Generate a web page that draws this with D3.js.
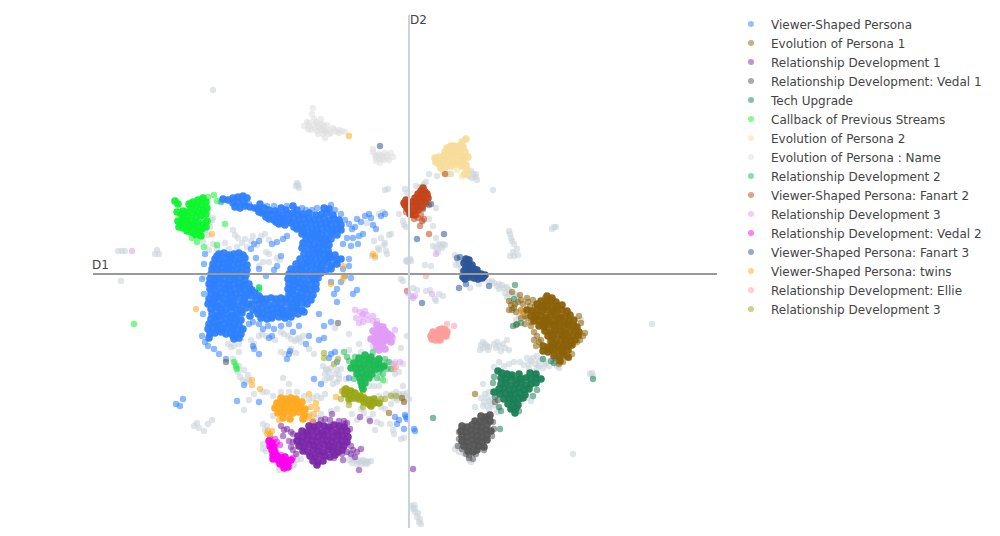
<!DOCTYPE html>
<html>
<head>
<meta charset="utf-8">
<script src="https://cdn.jsdelivr.net/npm/d3@7"></script>
<style>
  html, body { margin: 0; padding: 0; background: #fff; }
  svg { display: block; }
  text { font-family: "DejaVu Sans", Verdana, sans-serif; font-size: 12px; fill: #444; }
</style>
</head>
<body>
<svg id="chart" width="1000" height="536"></svg>
<script>
// values, D1/D2 in picture units from the crossing of the axes
const viewerDense = [
  [-186,75],[-181,74],[-176,76],[-171,77],[-166,78],[-162,76],[-165,72],[-171,72],[-176,71],
  [-174,67],[-169,66],[-164,68],[-159,67],[-154,66],[-149,70],[-151,65],[-145,66],[-140,64],[-134,63],[-128,66],[-123,64],[-116,68],[-112,64],[-85,66],[-80,65],
  [-147,61],[-142,60],[-137,59],[-131,60],[-126,59],[-121,60],[-116,61],[-111,59],[-106,60],[-100,61],[-93,59],[-87,60],[-82,61],[-76,59],
  [-140,55],[-135,54],[-130,56],[-125,55],[-120,54],[-115,56],[-110,54],[-105,55],[-100,56],[-95,54],[-90,55],[-85,56],[-80,54],[-75,55],[-70,54],
  [-130,50],[-124,49],[-118,51],[-113,50],[-108,49],[-103,50],[-98,51],[-93,49],[-88,50],[-83,51],[-78,49],[-73,50],[-68,49],
  [-112,45],[-107,44],[-102,46],[-97,45],[-92,44],[-87,45],[-82,46],[-77,44],[-72,45],[-68,44],
  [-107,40],[-102,39],[-97,41],[-92,40],[-87,39],[-82,40],[-77,41],[-72,39],
  [-103,35],[-98,34],[-93,36],[-88,35],[-83,34],[-78,35],
  [-106,31],[-100,30],[-95,29],[-90,31],[-85,30],[-80,29],
  [-107,26],[-101,25],[-96,24],[-91,26],[-86,25],[-81,24],
  [-105,20],[-100,19],[-95,21],[-90,20],[-85,19],[-80,20],[-74,19],
  [-109,15],[-103,14],[-98,16],[-93,15],[-88,14],[-83,15],[-78,16],[-72,14],[-68,15],
  [-113,10],[-107,9],[-102,11],[-97,10],[-92,9],[-87,10],[-82,11],[-77,9],[-72,10],
  [-118,5],[-113,4],[-108,6],[-103,5],[-98,4],[-93,5],[-88,6],[-83,4],[-78,5],
  [-120,0],[-115,-1],[-110,1],[-104,0],[-98,-1],[-93,0],[-88,1],
  [-121,-5],[-116,-6],[-111,-4],[-106,-5],[-100,-6],[-95,-5],[-91,-4],
  [-120,-10],[-115,-11],[-110,-9],[-104,-10],[-98,-11],[-93,-10],
  [-121,-15],[-116,-16],[-110,-14],[-104,-15],[-98,-16],[-93,-15],
  [-120,-20],[-114,-21],[-108,-19],[-102,-20],[-96,-21],
  [-147,-25],[-143,-25],[-138,-24],[-133,-25],[-128,-24],[-123,-25],[-118,-25],[-113,-26],[-108,-24],[-103,-25],[-98,-26],
  [-150,-30],[-145,-29],[-140,-31],[-134,-30],[-128,-30],[-122,-29],[-117,-31],[-112,-30],[-107,-29],[-102,-30],
  [-152,-35],[-147,-34],[-142,-36],[-137,-35],[-132,-34],[-127,-35],[-122,-36],[-117,-34],[-112,-35],[-107,-36],
  [-151,-40],[-146,-39],[-141,-41],[-136,-40],[-131,-39],[-126,-40],[-121,-41],[-116,-39],[-111,-40],
  [-148,-44],[-142,-45],[-137,-44],[-130,-43],[-124,-44],[-118,-43],
  [-190,20],[-185,21],[-180,19],[-175,20],[-170,21],[-166,19],
  [-194,15],[-189,14],[-184,16],[-179,15],[-174,14],[-169,15],[-164,16],
  [-196,10],[-191,9],[-186,11],[-181,10],[-176,9],[-171,10],[-166,11],[-162,9],
  [-197,5],[-192,4],[-187,6],[-182,5],[-177,4],[-172,5],[-167,6],[-162,4],
  [-198,0],[-193,-1],[-188,1],[-183,0],[-178,-1],[-173,0],[-168,1],[-163,-1],
  [-199,-5],[-194,-6],[-189,-4],[-184,-5],[-179,-6],[-174,-5],[-169,-4],[-164,-6],
  [-200,-10],[-195,-11],[-190,-9],[-185,-10],[-180,-11],[-175,-10],[-170,-9],[-165,-11],[-160,-10],
  [-199,-15],[-194,-16],[-189,-14],[-184,-15],[-179,-16],[-174,-15],[-169,-14],[-164,-16],[-159,-15],
  [-198,-20],[-193,-21],[-188,-19],[-183,-20],[-178,-21],[-173,-20],[-168,-19],[-163,-21],
  [-200,-25],[-195,-26],[-190,-24],[-185,-25],[-180,-26],[-175,-25],[-170,-24],[-165,-26],
  [-201,-30],[-196,-29],[-191,-31],[-186,-30],[-181,-29],[-176,-30],[-171,-31],[-166,-29],[-160,-30],
  [-198,-35],[-193,-34],[-188,-36],[-183,-35],[-178,-34],[-173,-35],[-168,-36],[-163,-34],
  [-197,-40],[-192,-41],[-187,-39],[-182,-40],[-177,-41],[-172,-40],[-167,-39],
  [-198,-45],[-193,-44],[-188,-46],[-183,-45],[-178,-44],[-173,-45],[-168,-46],
  [-200,-50],[-195,-49],[-190,-51],[-185,-50],[-180,-49],[-175,-50],[-170,-51],
  [-201,-55],[-196,-54],[-191,-56],[-186,-55],[-181,-54],[-176,-55],[-171,-56],[-166,-55],
  [-199,-60],[-194,-59],[-183,-60],[-178,-59],[-173,-61],[-168,-60],
  [-175,-65],[-170,-64],[-200,-64],
  [-150,62],[-143,57],[-133,52],[-127,52],[-115,47],[-105,42],[-95,37],[-85,32],[-90,22],[-80,17],[-100,12],[-88,7],[-108,2],[-96,-3],[-113,-8],[-105,-13],[-117,-18],[-110,-23],
  [-137,-42],[-125,-38],[-115,-33],[-105,-38],[-192,18],[-178,17],[-195,7],[-180,7],[-190,-2],[-175,-3],[-197,-12],[-182,-13],[-167,-12],[-192,-23],[-177,-23],[-193,-32],[-178,-32],
  [-190,-42],[-175,-42],[-192,-52],[-178,-52],[-188,-58],[-176,-62],[-164,-24],[-157,-16],[-154,-19],[-150,-22],[-158,-22],[-153,-26],[-156,-36],[-159,-42],[-157,-30]
];
const viewerSparse = [
  [-188,72],[-160,70],[-142,68],[-135,68],[-122,68],[-107,66],[-103,64],[-97,64],[-92,66],[-78,69],[-74,64],[-68,60],[-64,54],[-60,50],[-57,45],
  [-52,55],[-48,52],[-44,58],[-40,60],[-56,36],[-50,38],[-46,40],[-58,28],[-51,30],[-36,49],[-33,45],[-38,56],[-28,58],[-24,60],[-54,47],
  [-66,30],[-62,36],[-60,15],[-60,8],[-66,5],[-64,-2],[-68,-8],[-52,-16],[-56,-20],[-58,-4],[-78,-8],[-72,-15],
  [-126,35],[-122,38],[-132,32],[-137,30],[-150,33],[-155,30],[-158,25],[-128,18],[-132,8],[-135,4],[-143,-2],[-150,5],[-153,16],[-150,-14],
  [-207,-5],[-205,10],[-204,20],[-205,-20],[-206,-40],[-207,-62],[-204,-68],[-201,-72],[-160,-50],[-156,-48],[-150,-50],[-146,-55],[-141,-52],
  [-135,-55],[-128,-52],[-120,-50],[-116,-58],[-110,-52],[-100,-62],[-90,-40],[-85,-52],[-103,-70],[-78,-48],[-75,-20],[-72,-28],
  [-156,-72],[-150,-80],[-155,-75],[-140,-64],[-137,-62],[-120,-80],[-119,-77],[-122,-85],[-90,-66],[-85,-64],[-78,-80],[-74,-78],
  [-233,-130],[-226,-125],[-229,-132],[-172,-127],[-165,-111],[-190,-80],[-195,-75],[-183,-85],[-150,-128],
  [-95,-105],[-88,-110],[-80,-84],[-72,-88],[-60,-104],[-14,-143],[-10,-146],[-12,-150],[-5,-155],[5,-155],[6,-157],[-4,-141],[-3,-143],[-2,-145]
];
const evolution1Dense = [
  [138,-22],[143,-24],
  [132,-27],[137,-28],[142,-27],[147,-28],[128,-30],[133,-32],[138,-31],[143,-33],[148,-32],[153,-31],
  [118,-36],[123,-37],[128,-36],[133,-37],[138,-36],[143,-38],[148,-37],[153,-36],[158,-37],
  [122,-42],[127,-41],[132,-42],[137,-43],[142,-41],[147,-42],[152,-43],[157,-42],[161,-41],
  [125,-47],[130,-46],[135,-47],[140,-48],[145,-46],[150,-47],[155,-48],[160,-47],[165,-46],
  [130,-52],[135,-53],[140,-51],[145,-52],[150,-53],[155,-52],[160,-51],[165,-52],[168,-53],
  [136,-57],[141,-58],[146,-56],[151,-57],[156,-58],[161,-57],[166,-56],[170,-58],
  [139,-62],[144,-63],[149,-61],[154,-62],[159,-63],[164,-62],[169,-61],
  [142,-67],[147,-68],[152,-66],[157,-67],[162,-68],[166,-66],
  [134,-72],[139,-73],[144,-71],[149,-72],[154,-73],[159,-72],[163,-71],
  [134,-77],[139,-78],[144,-76],[149,-77],[154,-78],[159,-76],
  [145,-82],[150,-83],[155,-81],[159,-83],[151,-87],
  [135,-34],[146,-35],[126,-44],[138,-45],[150,-44],[134,-50],[147,-50],[158,-50],[144,-60],[156,-60],[145,-70],[156,-70],[141,-75],[152,-75]
];
const evolution1Sparse = [
  [102,-31],[105,-34],[103,-36],[109,-28],[114,-30],[119,-28],[124,-26],[107,-38],[112,-36],[112,-44],[116,-42],[122,-52],[125,-58],[128,-62],
  [131,-34],[136,-24],[126,-32],[107,-51],[170,-62],[174,-62],[171,-66],[172,-49],[170,-42],[176,-59],[168,-68],[163,-80],[160,-84],[154,-88],[150,-90],
  [100,-27],[106,-30],[112,-26],[118,-24],[121,-32],[114,-38],[118,-44],[100,-36],[116,-50],[125,-66],[130,-68],[127,-72],[132,-66],[122,-48],
  [103,-18],[111,-21],[98,-100],[66,-120],[-7,-124],[-20,-139],[-5,-128]
];
const rel1Dense = [
  [-100,-152],[-95,-153],[-90,-151],[-85,-152],[-80,-153],[-75,-151],[-70,-152],[-65,-153],
  [-107,-157],[-102,-158],[-97,-156],[-92,-157],[-87,-158],[-82,-156],[-77,-157],[-72,-158],[-67,-156],[-62,-157],
  [-111,-162],[-106,-163],[-101,-161],[-96,-162],[-91,-163],[-86,-161],[-81,-162],[-76,-163],[-71,-161],[-66,-162],[-61,-163],
  [-112,-167],[-107,-168],[-102,-166],[-97,-167],[-92,-168],[-87,-166],[-82,-167],[-77,-168],[-72,-166],[-67,-167],[-62,-168],
  [-110,-172],[-105,-173],[-100,-171],[-95,-172],[-90,-173],[-85,-171],[-80,-172],[-75,-173],[-70,-171],[-65,-172],
  [-106,-177],[-101,-178],[-96,-176],[-91,-177],[-86,-178],[-81,-176],[-76,-177],[-71,-178],[-67,-176],
  [-99,-182],[-94,-183],[-89,-181],[-84,-182],[-79,-183],[-74,-181],
  [-96,-187],[-91,-188],[-86,-187],[-92,-191]
];
const rel1Sparse = [
  [-96,-148],[-88,-146],[-84,-145],[-79,-146],[-70,-147],[-65,-147],[-64,-150],[-59,-155],[-62,-149],
  [-128,-152],[-125,-156],[-122,-155],[-118,-158],[-126,-162],[-116,-160],[-118,-173],[-116,-176],[-116,-168],[-120,-167],[-113,-180],
  [-58,-172],[-56,-176],[-52,-178],[-48,-175],[-54,-183],[-62,-178],[-58,-180],[-67,-180],[-75,-184],[-50,-196],[-49,-143],[-39,-147],[4,-195],[-77,-140],[-66,-186]
];
const vedal1Dense = [
  [72,-142],[77,-143],[81,-141],[66,-147],[71,-148],[76,-146],[81,-147],
  [53,-152],[58,-153],[63,-151],[68,-152],[73,-153],[78,-151],
  [52,-157],[57,-158],[62,-156],[67,-157],[72,-158],[77,-156],[82,-157],
  [53,-162],[58,-163],[63,-161],[68,-162],[73,-163],[78,-161],
  [53,-167],[58,-168],[63,-166],[68,-167],[73,-168],[78,-166],
  [55,-172],[60,-173],[65,-171],[70,-172],[75,-173],
  [59,-177],[64,-178],[68,-176]
];
const vedal1Sparse = [
  [84,-148],[85,-155],[83,-162],[50,-165],[50,-158],[49,-172],[53,-175],[60,-181],[67,-180],[57,-180],[64,-185],[75,-176],[60,-184],
  [86,-128],[89,-126],[105,-136],[-178,14],[-177,-2],[-196,-7],[-183,-88],[-71,-49]
];
const techDense = [
  [89,-97],[93,-99],[98,-100],[103,-101],[110,-100],[121,-99],[127,-100],
  [92,-104],[97,-105],[102,-104],[107,-106],[112,-105],[117,-104],[122,-105],[127,-104],[132,-105],
  [92,-110],[97,-109],[102,-111],[107,-110],[112,-109],[117,-111],[122,-110],[127,-109],
  [90,-115],[95,-114],[100,-116],[105,-115],[110,-114],[115,-116],[120,-115],
  [85,-118],[91,-120],[96,-119],[101,-121],[106,-120],[111,-119],[116,-121],
  [95,-125],[100,-124],[105,-126],[110,-125],[114,-124],
  [99,-130],[104,-129],[109,-131],[102,-135],[107,-134],[106,-139]
];
const techSparse = [
  [85,-103],[84,-109],[86,-123],[90,-133],[92,-137],[103,-135],[110,-137],[128,-116],[124,-122],
  [104,-52],[108,-50],[112,-49],[106,-11],[145,-89],[147,-84],[134,-85],[142,-87],[24,-144],[91,-155],[68,-167],[184,-105],
  [-76,-173],[105,-25]
];
const callbackDense = [
  [-228,60],[-223,62],[-218,66],[-213,68],[-208,69],[-203,72],
  [-231,53],[-226,57],[-221,58],[-216,61],[-211,62],[-206,64],[-202,66],
  [-228,50],[-223,52],[-218,54],[-213,56],[-208,58],[-203,60],
  [-226,46],[-221,47],[-216,49],[-211,51],[-206,50],[-202,53],
  [-222,43],[-217,42],[-212,44],[-207,45],[-203,47],[-213,39],[-208,38],[-210,42],
  [-234,73],[-231,70],[-232,62],
  [-226,63],[-220,70],[-216,72],[-211,74],[-206,76],[-230,47],[-225,54],[-219,48],[-214,48]
];
const callbackSparse = [
  [-195,79],[-201,77],[-192,73],[-187,73],[-218,41],[-217,36],[-212,32],[-205,27],[-192,29],[-184,50],
  [-275,-50],[-150,-16],[-150,-13],[-177,-43],[-173,-92],[-172,-95],[-175,-88],[77,-164],[-139,-162],[-26,-106]
];
const evolution2Dense = [
  [57,135],[53,132],[50,128],[54,127],[48,124],[44,122],[50,122],[41,119],[46,118],[52,118],[37,117],[34,113],[39,112],[44,114],[50,113],[55,113],
  [30,110],[27,112],[32,106],[36,107],[42,108],[53,108],[57,109],[58,104],[56,100],
  [38,126],[42,128],[36,122],[40,124],[45,128],[56,122],[59,117],[56,117],[47,110],[35,118],[26,116],[30,117]
];
const evolution2Sparse = [
  [37,100],[41,100],[48,104],[53,98],[34,102],[60,99]
];
const evoNameSparse = [
  [-96,166],[-97,160],[-102,152],[-105,148],[-100,147],[-95,155],[-90,150],[-85,148],[-98,144],[-94,146],[-88,145],[-83,143],[-78,141],[-72,142],[-67,143],[-82,149],[-76,146],[-75,144],
  [-91,140],[-84,136],[-86,140],[-90,147],[-101,145],[-84,142],[-80,140],[-70,144],[-100,151],[-93,152],[-88,155],[-92,143],[-95,149],[-87,150],[-86,144],[-80,144],[-70,141],[-64,142],
  [-36,122],[-32,118],[-30,115],[-26,117],[-22,119],[-18,121],[-16,117],[-24,121],[-28,119],[-34,119],[-33,113],[-29,111],[-36,125],[-20,114],[-25,114],[-30,120],[-27,115],[-22,116],[-33,116]
];
const rel2Dense = [
  [-44,-81],[-38,-83],[-50,-84],[-45,-86],[-40,-86],[-35,-87],[-30,-85],[-55,-89],[-50,-90],[-45,-91],[-40,-90],[-35,-91],[-30,-90],[-25,-92],
  [-58,-94],[-53,-95],[-48,-94],[-43,-95],[-38,-96],[-33,-95],[-28,-94],[-52,-100],[-47,-99],[-42,-101],[-37,-100],[-49,-104],[-45,-103],[-40,-104],[-48,-108],[-44,-109],[-47,-112],[-46,-115]
];
const rel2Sparse = [
  [-60,-87],[-36,-78],[-54,-83],[-22,-95],[-20,-88],[-18,-95],[-62,-83],[-26,-100],[-30,-98],[-65,-78],[-24,-85],[-55,-105],[-32,-104]
];
const fanart2Dense = [
  [14,86],[12,83],[16,82],[9,80],[13,79],[18,80],[6,76],[10,75],[14,76],[19,76],[3,72],[7,71],[11,72],[16,72],[-1,70],[3,67],[8,68],[13,67],[-4,69],[0,64],[5,63],[9,64],[2,60],[6,59],
  [-5,71],[-2,66],[1,60],[-3,74]
];
const fanart2Sparse = [
  [9,56],[12,59],[5,55],[13,53],[11,48],[15,55],[20,69],[-3,62],[3,59],[20,40],[-2,-17],[36,100]
];
const rel3Dense = [
  [-32,-51],[-29,-53],[-26,-53],[-36,-57],[-32,-58],[-28,-58],[-24,-57],[-21,-60],[-30,-62],[-26,-62],[-22,-63],[-18,-62],[-34,-63],[-38,-65],[-34,-68],[-30,-67],[-26,-68],[-22,-66],[-18,-68],[-27,-72],[-32,-73],[-24,-75],[-30,-76]
];
const rel3Sparse = [
  [-54,-36],[-49,-38],[-46,-40],[-44,-37],[-42,-41],[-47,-43],[-53,-44],[-50,-49],[-46,-48],[-41,-46],[-36,-47],[-36,-42],[-32,-47],
  [-14,-56],[-16,-64],[2,-22],[4,-24],[6,-22],[-1,-19],[-15,-90],[-53,-96],[-9,-88],[-29,-90],[23,-20],[27,20],[-277,23]
];
const vedal2Dense = [
  [-140,-167],[-137,-169],[-139,-172],[-135,-173],[-137,-176],[-134,-178],[-136,-181],[-132,-182],[-136,-185],[-131,-186],[-127,-184],[-127,-188],[-123,-187],[-124,-183],[-129,-190],[-125,-191],[-121,-190],[-125,-194],[-121,-193],[-118,-186]
];
const vedal2Sparse = [
  [-132,-168],[-129,-171],[-134,-165],[-139,-165],[-128,-181],[-116,-184],[-96,-181]
];
const fanart3Dense = [
  [57,15],[60,14],[55,11],[59,10],[63,9],[57,7],[61,6],[65,5],[60,3],[64,2],[68,1],[58,0],[62,-1],[66,-2],[70,-2],[74,-3],[60,-3],[65,-4],[69,-5],[73,-4],
  [55,3],[54,-3],[56,-5],[68,4],[76,-1],[72,0]
];
const fanart3Sparse = [
  [48,16],[51,17],[57,-10],[80,-12],[-29,128],[35,40],[17,70],[8,35],[13,-29],[50,-14],[14,65],[22,70]
];
const twinsDense = [
  [-128,-124],[-123,-125],[-118,-124],[-113,-125],[-132,-129],[-127,-130],[-122,-128],[-117,-129],[-112,-130],[-107,-128],
  [-134,-134],[-129,-135],[-124,-133],[-119,-134],[-114,-135],[-109,-133],[-104,-135],
  [-131,-139],[-126,-140],[-121,-138],[-116,-139],[-110,-138],[-105,-140],[-126,-144],[-119,-145],[-106,-145]
];
const twinsSparse = [
  [-157,-106],[-157,-111],[-149,-115],[-100,-120],[-92,-135],[-98,-133],[-93,-129],[-97,-146],[-100,-142],[-73,-123],[-65,-115],[-66,-118],[-130,-146],[-103,-144],[-95,-140],
  [-141,-157],[-139,-160],[-137,-157],[-142,-160],[-213,-35],[-197,40],[-34,18],[-36,20],[-78,-10],[-66,-5],[-66,8],[-46,-119],[165,-70],[113,-38],[-65,-2],[-60,138]
];
const ellieSparse = [
  [45,-52],[38,-50],[-15,-95],[-13,-93],[17,-2]
];
const ellieDense = [
  [22,-62],[25,-63],[28,-64],[31,-62],[28,-60],[32,-58],[35,-59],[36,-56],[33,-55],[37,-62],[24,-58],[30,-56],[34,-60],[31,-66],[27,-66],[38,-58],[23,-65],[26,-60],[29,-63],
  [27,-62],[31,-60],[34,-57],[29,-64],[25,-64],[35,-61],[32,-63]
];
const rel3bDense = [
  [-63,-115],[-58,-117],[-64,-120],[-59,-121],[-54,-119],[-49,-122],[-60,-125],[-55,-124],[-50,-125],[-45,-124],[-40,-126],[-35,-125],[-45,-128],[-40,-130],[-35,-129],[-30,-129],[-38,-132]
];
const rel3bSparse = [
  [-67,-117],[-68,-125],[-28,-125],[-24,-125],[-60,-131],[-46,-133],[-18,-122],[-13,-122],[-85,-79],[-85,-84],[-75,-90],[-71,-85]
];
// grey-blue points that have no legend entry
const hiddenSparse = [
  [-196,184],[-112,91],[-113,88],[-110,86],[-111,89],[-291,23],[-287,23],[-284,23],[-288,-7],[-254,20],[-252,24],[-250,20],[-205,-3],
  [-222,53],[-204,43],[-201,39],[-199,47],[-199,51],[-197,54],[-196,56],[-206,33],[-196,30],[-200,24],[-192,25],[-184,31],[-180,25],[-172,27],[-164,35],[-162,27],[-156,38],[-152,29],[-148,38],[-144,40],[-140,34],
  [-176,44],[-174,39],[-171,36],[-167,31],[-158,33],[-146,12],[-140,12],[-132,16],[-129,14],[-150,8],[-143,22],[-140,20],
  [-30,60],[-26,62],[-42,51],[-22,20],[-23,23],[-25,29],[-24,31],[-28,36],[-20,39],[-18,40],[-35,33],[-37,18],[-34,16],[-30,24],[-31,26],[-6,53],[-5,49],[-3,47],[-10,60],[-2,81],[-4,85],[-21,85],[-24,84],
  [-181,-70],[-178,-73],[-175,-72],[-170,-70],[-168,-65],[-170,-78],[-158,-66],[-155,-70],[-150,-62],[-147,-60],[-143,-62],[-134,-66],[-128,-58],[-125,-60],
  [-121,-62],[-118,-65],[-114,-67],[-112,-65],[-108,-68],[-110,-64],[-106,-62],[-128,-78],[-124,-80],[-118,-75],[-113,-79],[-100,-75],[-95,-80],
  [-176,-85],[-174,-89],[-173,-94],[-171,-98],[-169,-103],[-166,-106],[-163,-108],[-160,-106],[-161,-101],[-165,-96],[-170,-92],[-126,-104],[-120,-110],
  [-86,-92],[-83,-95],[-80,-98],[-84,-100],[-80,-104],[-84,-106],[-78,-94],[-72,-96],[-72,-108],[-76,-110],[-70,-101],[-68,-95],[-60,-76],[-50,-70],[-63,-105],[-48,-78],[-36,-72],
  [-22,-88],[-18,-90],[-16,-95],[-14,-88],[-14,-100],[-24,-107],[-10,-98],[-6,-90],[-30,-112],[-28,-104],[-6,-112],[-8,-74],[-2,-62],[-60,-60],[-74,-54],[-35,-112],
  [-13,-118],[-10,-120],[-6,-120],[-4,-122],[-18,-121],[-15,-124],[-10,-124],[-5,-127],[0,-125],[-2,-119],[-23,-120],[-18,-130],[-28,-133],[-40,-112],[-30,-122],[-24,-135],
  [-165,-136],[-160,-126],[-155,-120],[-146,-118],[-142,-118],[-136,-122],[-128,-118],[-120,-118],[-112,-118],[-105,-122],[-100,-126],[-96,-124],[-92,-122],[-88,-124],[-84,-120],[-88,-140],
  [-100,-140],[-92,-144],[-96,-153],[-78,-137],[-72,-135],[-60,-128],[-57,-140],[-52,-146],[-48,-135],[-45,-139],[-40,-145],[-36,-140],[-32,-148],[-28,-150],[-34,-156],
  [-146,-150],[-142,-152],[-144,-156],[-146,-170],[-146,-175],[-143,-177],[-112,-180],[-115,-190],[-112,-186],[-120,-188],[-130,-196],[-122,-195],[-116,-192],[-108,-185],
  [-62,-178],[-58,-182],[-55,-184],[-52,-186],[-50,-188],[-46,-186],[-43,-187],[-41,-188],[-38,-187],[-60,-186],[-57,-189],[-52,-190],[-47,-190],[-42,-190],
  [-215,-152],[-212,-149],[-210,-154],[-205,-157],[-201,-150],[-197,-146],[-15,-160],[-8,-165],[-5,-164],[-19,-150],[-16,-156],
  [2,-232],[4,-235],[6,-238],[8,-243],[10,-248],[6,-234],[9,-239],[11,-245],[12,-250],[5,-231],
  [-1,12],[2,13],[-3,13],[1,15],[-2,14],[16,9],[22,8],[14,88],[15,90],[11,87],[17,92],[7,88],[9,80],[20,100],
  [28,98],[38,100],[42,100],[62,103],[64,100],[66,97],[68,94],[63,96],[60,98],[67,100],[84,84],[27,66],[14,53],[20,55],[24,48],
  [27,36],[30,30],[24,28],[27,26],[31,28],[34,30],[36,29],[33,26],[29,22],[145,47],[147,47],[143,45],
  [100,43],[101,40],[102,36],[103,33],[105,30],[104,22],[108,25],[105,18],[109,19],[101,18],
  [-8,-5],[-6,-7],[4,-14],[8,-16],[17,-17],[21,-16],[26,-25],[27,-27],[30,-20],[34,-22],[46,19],[49,14],[50,10],[55,14],[47,9],[52,6],[53,1],[56,-3],[70,-10],[61,-14],
  [75,-5],[80,-8],[85,-9],[90,-10],[95,-14],[100,-16],[105,-20],[108,-22],[90,-15],[96,-19],[98,-23],[102,-27],[105,-33],[110,-42],[107,-46],[83,-7],[88,-12],[93,-11],[98,-13],[100,-20],
  [72,-71],[76,-70],[71,-76],[74,-74],[80,-73],[85,-70],[88,-68],[79,-76],[90,-72],[92,-77],[96,-74],[100,-76],[98,-66],[74,-68],[78,-72],[87,-74],[94,-70],
  [118,-84],[122,-87],[126,-90],[130,-92],[134,-94],[140,-92],[144,-88],[128,-82],[133,-85],[137,-88],[125,-98],[120,-95],[115,-91],[111,-88],[105,-88],[100,-90],[95,-92],[85,-93],[90,-88],[124,-84],[130,-87],[136,-90],[128,-94],[120,-90],
  [72,-124],[76,-120],[80,-118],[75,-128],[80,-127],[84,-125],[78,-132],[74,-110],[84,-132],[90,-134],[104,-122],[112,-128],[118,-124],[122,-127],[88,-138],[66,-133],[78,-124],[82,-130],[74,-132],[80,-136],
  [46,-175],[50,-178],[48,-172],[54,-179],[55,-176],[52,-170],[60,-186],[62,-188],[243,-50],[164,-180],[184,-102],[181,-100],[183,-99],[148,-92],[150,-94],[151,-70],[172,-46],
  [-136,-142],[-85,-148],[-56,-186],[-48,-187],[-44,-189],[-70,-105],[-74,-100],[-78,-104],[-82,-96],[-16,-120],[-8,-122],[-12,-126]
];

const seriesNames = [
  "Viewer-Shaped Persona", "Evolution of Persona 1", "Relationship Development 1", "Relationship Development: Vedal 1",
  "Tech Upgrade", "Callback of Previous Streams", "Evolution of Persona 2", "Evolution of Persona : Name",
  "Relationship Development 2", "Viewer-Shaped Persona: Fanart 2", "Relationship Development 3", "Relationship Development: Vedal 2",
  "Viewer-Shaped Persona: Fanart 3", "Viewer-Shaped Persona: twins", "Relationship Development: Ellie", "Relationship Development 3"
];
const seriesColors = [
  "#2e80ff", "#8b6108", "#7a28a8", "#555555",
  "#1a7f55", "#0cf52c", "#f8dc9a", "#dedede",
  "#1db954", "#c4451a", "#df9cf5", "#ff00ee",
  "#2a5599", "#ffa91f", "#ff9c9c", "#9aa615"
];
const sparseValues = [
  viewerSparse, evolution1Sparse, rel1Sparse, vedal1Sparse, techSparse, callbackSparse, evolution2Sparse, evoNameSparse,
  rel2Sparse, fanart2Sparse, rel3Sparse, vedal2Sparse, fanart3Sparse, twinsSparse, ellieSparse, rel3bSparse
];
const denseValues = [
  viewerDense, evolution1Dense, rel1Dense, vedal1Dense, techDense, callbackDense, evolution2Dense, [],
  rel2Dense, fanart2Dense, rel3Dense, vedal2Dense, fanart3Dense, twinsDense, ellieDense, rel3bDense
];
const hiddenColor = "#c9d4da";

const svg = d3.select("#chart");

const x = d3.scaleLinear().domain([-315, 309]).range([94, 718]);
const y = d3.scaleLinear().domain([258, -255]).range([16, 529]);

function drawPoints(values, color, opacity, radius) {
  svg.append("g")
    .selectAll("circle")
    .data(values)
    .enter()
    .append("circle")
    .attr("cx", d => x(d[0]))
    .attr("cy", d => y(d[1]))
    .attr("r", radius)
    .attr("fill", color)
    .attr("fill-opacity", opacity);
}

// grey points sit under everything else
drawPoints(hiddenSparse, hiddenColor, 0.6, 3.2);
seriesNames.forEach((name, i) => {
  drawPoints(sparseValues[i], seriesColors[i], 0.55, 3.2);
});
seriesNames.forEach((name, i) => {
  drawPoints(denseValues[i], seriesColors[i], 0.95, 3.8);
});

// axis lines through the origin
svg.append("line")
  .attr("x1", 93).attr("x2", 717)
  .attr("y1", y(0)).attr("y2", y(0))
  .attr("stroke", "#999").attr("stroke-width", 2);
svg.append("line")
  .attr("x1", x(0)).attr("x2", x(0))
  .attr("y1", 15).attr("y2", 528)
  .attr("stroke", "#c8d4da").attr("stroke-width", 2);

svg.append("text").attr("x", 92).attr("y", 269).text("D1");
svg.append("text").attr("x", 410).attr("y", 24).text("D2");

// legend
const legendY = d3.scalePoint().domain(d3.range(seriesNames.length)).range([24, 309]);
const legend = svg.append("g");
seriesNames.forEach((name, i) => {
  legend.append("circle")
    .attr("cx", 751).attr("cy", legendY(i)).attr("r", 3)
    .attr("fill", seriesColors[i]).attr("fill-opacity", 0.5);
  legend.append("text")
    .attr("x", 771).attr("y", legendY(i) + 4.5)
    .text(name);
});
</script>
</body>
</html>
